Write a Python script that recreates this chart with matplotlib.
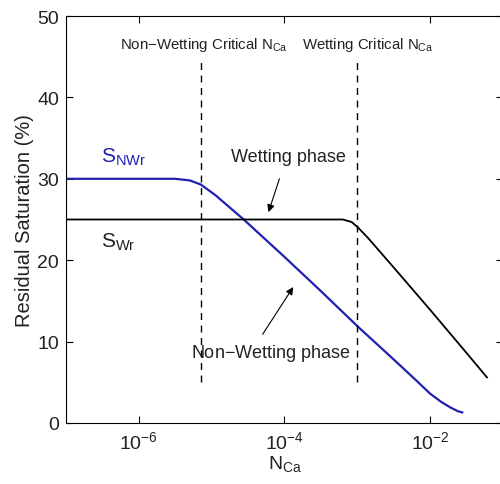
import numpy as np
import matplotlib
matplotlib.use('Agg')
import matplotlib.pyplot as plt

plt.rcParams['font.family'] = ['Liberation Sans', 'DejaVu Sans']
plt.rcParams['mathtext.fontset'] = 'custom'
plt.rcParams['mathtext.rm'] = 'Liberation Sans'
plt.rcParams['mathtext.it'] = 'Liberation Sans'

# curve data (log10 of N_Ca, saturation %)
nw_logx = [-7.0, -5.5, -5.3, -5.15, -4.95, -4.56, -4.0, -3.5, -3.0, -2.5,
           -2.2, -2.0, -1.85, -1.72, -1.62, -1.56]
nw_sat = [30.0, 30.0, 29.8, 29.3, 28.0, 25.0, 20.4, 16.2, 11.9, 7.8,
          5.3, 3.6, 2.6, 1.9, 1.45, 1.3]
w_logx = [-7.0, -3.2, -3.08, -3.0, -2.85, -2.5, -2.0, -1.5, -1.22]
w_sat = [25.0, 25.0, 24.7, 24.1, 22.7, 19.1, 13.9, 8.6, 5.6]
crit_nw = 10 ** -5.15
crit_w = 1e-3

fig = plt.figure(figsize=(5, 4.85), dpi=100)
ax = fig.add_axes([66 / 500, 61 / 485, 437 / 500, 407 / 485])

ax.plot(10 ** np.array(nw_logx), nw_sat, color='#2020b0', lw=1.6)
ax.plot(10 ** np.array(w_logx), w_sat, color='black', lw=1.3)

for xc in [crit_nw, crit_w]:
    ax.plot([xc, xc], [5, 45], color='black', lw=1.0, ls=(0, (5, 4)))

ax.set_xscale('log')
ax.set_xlim(1e-7, 1e-1)
ax.set_ylim(0, 50)
ax.set_xticks([1e-6, 1e-4, 1e-2])
ax.set_xticklabels([r'$10^{-6}$', r'$10^{-4}$', r'$10^{-2}$'])
ax.minorticks_off()
ax.set_yticks([0, 10, 20, 30, 40, 50])
ax.tick_params(direction='in', top=True, right=True, labelsize=14, length=5,
               pad=5, labelcolor='#222222')

ax.set_xlabel(r'N$_{\mathrm{Ca}}$', fontsize=14, labelpad=1, color='#222222')
ax.set_ylabel('Residual Saturation (%)', fontsize=14.5, labelpad=2, color='#222222')

ax.text(10 ** -5.11, 46.6, r'Non$-$Wetting Critical N$_{\mathrm{Ca}}$',
        ha='center', va='center', fontsize=10.8, color='#222222')
ax.text(10 ** -2.86, 46.6, r'Wetting Critical N$_{\mathrm{Ca}}$',
        ha='center', va='center', fontsize=10.8, color='#222222')
ax.text(10 ** -6.52, 32.1, r'S$_{\mathrm{NWr}}$', color='#2020b0',
        fontsize=15, ha='left', va='baseline')
ax.text(10 ** -6.52, 21.6, r'S$_{\mathrm{Wr}}$', color='#222222',
        fontsize=15, ha='left', va='baseline')

ax.text(10 ** -4.74, 32.8, 'Wetting phase', fontsize=13, ha='left',
        va='center', color='#222222')
ax.text(10 ** -5.29, 8.7, r'Non$-$Wetting phase', fontsize=13, ha='left',
        va='center', color='#222222')

arrow = dict(arrowstyle='-|>', color='black', lw=0.8, shrinkA=0, shrinkB=0,
             mutation_scale=11)
ax.annotate('', xy=(10 ** -4.22, 25.9), xytext=(10 ** -4.07, 30.0),
            arrowprops=arrow)
ax.annotate('', xy=(10 ** -3.88, 16.7), xytext=(10 ** -4.30, 10.9),
            arrowprops=arrow)

fig.savefig('out.png', dpi=100)
